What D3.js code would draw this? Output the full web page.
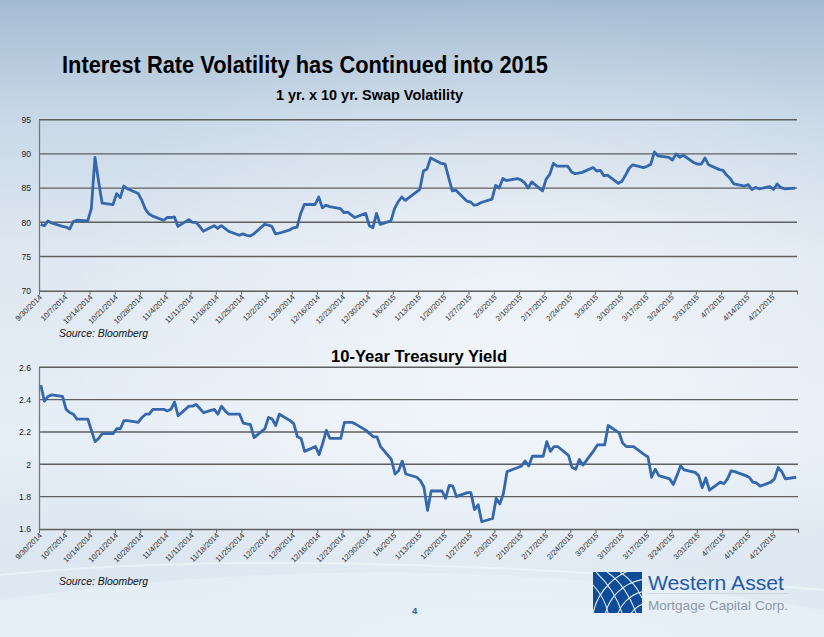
<!DOCTYPE html>
<html><head><meta charset="utf-8">
<script src="https://cdn.jsdelivr.net/npm/d3@7"></script>
<style>html,body{margin:0;padding:0;overflow:hidden;background:#dfe9f3}</style>
</head><body><svg id="c" width="824" height="637"></svg>
<script>
// ---------- DATA ----------
const dates = [
"9/30/2014","10/1/2014","10/2/2014","10/3/2014",
"10/6/2014","10/7/2014","10/8/2014","10/9/2014","10/10/2014",
"10/13/2014","10/14/2014","10/15/2014","10/16/2014","10/17/2014",
"10/20/2014","10/21/2014","10/22/2014","10/23/2014","10/24/2014",
"10/27/2014","10/28/2014","10/29/2014","10/30/2014","10/31/2014",
"11/3/2014","11/4/2014","11/5/2014","11/6/2014","11/7/2014",
"11/10/2014","11/11/2014","11/12/2014","11/13/2014","11/14/2014",
"11/17/2014","11/18/2014","11/19/2014","11/20/2014","11/21/2014",
"11/24/2014","11/25/2014","11/26/2014","11/27/2014","11/28/2014",
"12/1/2014","12/2/2014","12/3/2014","12/4/2014","12/5/2014",
"12/8/2014","12/9/2014","12/10/2014","12/11/2014","12/12/2014",
"12/15/2014","12/16/2014","12/17/2014","12/18/2014","12/19/2014",
"12/22/2014","12/23/2014","12/24/2014","12/25/2014","12/26/2014",
"12/29/2014","12/30/2014","12/31/2014","1/1/2015","1/2/2015",
"1/5/2015","1/6/2015","1/7/2015","1/8/2015","1/9/2015",
"1/12/2015","1/13/2015","1/14/2015","1/15/2015","1/16/2015",
"1/19/2015","1/20/2015","1/21/2015","1/22/2015","1/23/2015",
"1/26/2015","1/27/2015","1/28/2015","1/29/2015","1/30/2015",
"2/2/2015","2/3/2015","2/4/2015","2/5/2015","2/6/2015",
"2/9/2015","2/10/2015","2/11/2015","2/12/2015","2/13/2015",
"2/16/2015","2/17/2015","2/18/2015","2/19/2015","2/20/2015",
"2/23/2015","2/24/2015","2/25/2015","2/26/2015","2/27/2015",
"3/2/2015","3/3/2015","3/4/2015","3/5/2015","3/6/2015",
"3/9/2015","3/10/2015","3/11/2015","3/12/2015","3/13/2015",
"3/16/2015","3/17/2015","3/18/2015","3/19/2015","3/20/2015",
"3/23/2015","3/24/2015","3/25/2015","3/26/2015","3/27/2015",
"3/30/2015","3/31/2015","4/1/2015","4/2/2015","4/3/2015",
"4/6/2015","4/7/2015","4/8/2015","4/9/2015","4/10/2015",
"4/13/2015","4/14/2015","4/15/2015","4/16/2015","4/17/2015",
"4/20/2015","4/21/2015","4/22/2015","4/23/2015","4/24/2015",
"4/27/2015"
];

// 1 yr. x 10 yr. swap volatility
const swapVol = [
79.7,79.5,80.2,79.9,
79.4,79.3,79.0,80.1,80.3,
80.2,82.0,89.5,86.0,82.8,
82.6,84.2,83.6,85.3,84.9,
84.2,83.2,81.9,81.2,80.9,
80.3,80.7,80.7,80.8,79.4,
80.4,80.0,80.0,79.4,78.7,
79.5,79.1,79.5,79.1,78.7,
78.1,78.3,78.1,78.0,78.3,
79.7,79.6,79.4,78.3,78.4,
78.9,79.2,79.3,81.3,82.6,
82.6,83.7,82.1,82.5,82.3,
82.0,81.4,81.5,81.1,80.7,
81.3,79.5,79.2,81.3,79.7,
80.2,82.0,83.0,83.7,83.2,
84.4,84.8,87.5,87.8,89.4,
88.6,88.5,86.5,84.6,84.7,
83.1,83.0,82.5,82.6,82.9,
83.4,85.4,85.0,86.4,86.1,
86.4,86.2,85.8,85.0,85.9,
84.6,86.3,87.0,88.6,88.2,
88.2,87.4,87.1,87.2,87.3,
88.0,87.5,87.6,86.8,86.9,
85.7,86.0,86.9,87.9,88.4,
88.0,88.2,88.5,90.3,89.7,
89.5,89.1,90.0,89.5,89.8,
88.7,88.5,88.5,89.4,88.4,
87.7,87.6,86.9,86.4,85.6,
85.3,85.5,84.8,85.1,84.9,
85.2,84.8,85.6,85.1,84.9,
85.0
];

// 10-year Treasury yield
const tsyYield = [
2.49,2.39,2.42,2.43,
2.42,2.34,2.32,2.31,2.28,
2.28,2.21,2.14,2.16,2.19,
2.19,2.22,2.22,2.27,2.27,
2.26,2.29,2.31,2.31,2.34,
2.34,2.33,2.34,2.385,2.30,
2.36,2.36,2.37,2.345,2.32,
2.34,2.31,2.36,2.33,2.31,
2.31,2.255,2.25,2.245,2.165,
2.22,2.29,2.28,2.24,2.31,
2.27,2.25,2.17,2.16,2.08,
2.11,2.06,2.13,2.21,2.16,
2.16,2.26,2.26,2.26,2.25,
2.21,2.19,2.17,2.17,2.11,
2.03,1.94,1.96,2.02,1.94,
1.92,1.90,1.86,1.715,1.835,
1.835,1.79,1.87,1.865,1.80,
1.825,1.825,1.72,1.75,1.645,
1.665,1.79,1.755,1.82,1.955,
1.98,1.99,2.02,1.99,2.05,
2.05,2.14,2.08,2.11,2.11,
2.055,1.98,1.97,2.03,1.995,
2.085,2.12,2.12,2.12,2.24,
2.195,2.13,2.11,2.11,2.11,
2.06,2.045,1.92,1.97,1.93,
1.91,1.875,1.93,1.99,1.965,
1.95,1.93,1.855,1.915,1.84,
1.89,1.88,1.91,1.96,1.955,
1.93,1.92,1.89,1.885,1.865,
1.89,1.91,1.98,1.955,1.91,
1.92
];

const tickLabels = ["9/30/2014","10/7/2014","10/14/2014","10/21/2014","10/28/2014","11/4/2014",
"11/11/2014","11/18/2014","11/25/2014","12/2/2014","12/9/2014","12/16/2014","12/23/2014",
"12/30/2014","1/6/2015","1/13/2015","1/20/2015","1/27/2015","2/3/2015","2/10/2015",
"2/17/2015","2/24/2015","3/3/2015","3/10/2015","3/17/2015","3/24/2015","3/31/2015",
"4/7/2015","4/14/2015","4/21/2015"];
const axisEnd = "4/28/2015";

const volTicks = [70,75,80,85,90,95];
const yieldTicks = [1.6,1.8,2.0,2.2,2.4,2.6];

const titleText = "Interest Rate Volatility has Continued into 2015";
const volTitle = "1 yr. x 10 yr. Swap Volatility";
const yieldTitle = "10-Year Treasury Yield";
const sourceText = "Source: Bloomberg";

// ---------- DRAW ----------
const parse = d3.timeParse("%m/%d/%Y");
const svg = d3.select("#c");
const defs = svg.append("defs");

const bg = defs.append("linearGradient").attr("id","bg").attr("x1",0).attr("y1",0).attr("x2",0).attr("y2",1);
[[0,"#a4bcd3"],[0.08,"#b4c8dc"],[0.2,"#cbdae8"],[0.4,"#dfe8f2"],[0.7,"#e6eef6"],[0.88,"#dbe6f1"],[1,"#e2ebf4"]]
  .forEach(([o,c])=>bg.append("stop").attr("offset",o).attr("stop-color",c));
const rg = defs.append("radialGradient").attr("id","glow").attr("cx",0.62).attr("cy",0.55).attr("r",0.55);
rg.append("stop").attr("offset",0).attr("stop-color","#ffffff").attr("stop-opacity",0.5);
rg.append("stop").attr("offset",1).attr("stop-color","#ffffff").attr("stop-opacity",0);

svg.append("rect").attr("width",824).attr("height",637).attr("fill","url(#bg)");
svg.append("rect").attr("width",824).attr("height",637).attr("fill","url(#glow)");
svg.append("path").attr("d","M0,600 Q412,540 824,610 L824,637 L0,637 Z").attr("fill","#eaf1f8").attr("opacity",0.6);
svg.append("path").attr("d","M0,575 Q300,545 824,590").attr("fill","none").attr("stroke","#f4f8fc").attr("stroke-width",2).attr("opacity",0.6);

// Titles
svg.append("text").attr("x",62).attr("y",73).attr("textLength",486).attr("lengthAdjust","spacingAndGlyphs")
  .style("font-family","'Liberation Sans', Arial, sans-serif").style("font-weight","bold").style("font-size","24.5px")
  .attr("fill","#000").text(titleText);
svg.append("text").attr("x",276).attr("y",99.5).attr("textLength",187).attr("lengthAdjust","spacingAndGlyphs")
  .style("font-family","'Liberation Sans', Arial, sans-serif").style("font-weight","bold").style("font-size","14.5px")
  .attr("fill","#000").text(volTitle);
svg.append("text").attr("x",331).attr("y",361.5).attr("textLength",176).attr("lengthAdjust","spacingAndGlyphs")
  .style("font-family","'Liberation Sans', Arial, sans-serif").style("font-weight","bold").style("font-size","16px")
  .attr("fill","#000").text(yieldTitle);

const series = dates.map(parse);
const tickDates = tickLabels.map(parse).concat([parse(axisEnd)]);
const labelFor = new Map(tickLabels.map(s=>[+parse(s), s]));

function panel(values, yDomain, yTicks, top, bottom, right, fmt){
  const x = d3.scaleTime().domain([parse(tickLabels[0]), parse(axisEnd)]).range([39, right]);
  const y = d3.scaleLinear().domain(yDomain).range([bottom, top]);
  const g = svg.append("g");
  g.append("g").selectAll("line").data(yTicks.slice(1)).join("line")
    .attr("x1",39).attr("x2",right).attr("y1",d=>y(d)).attr("y2",d=>y(d))
    .attr("stroke","#5f5f5f").attr("stroke-width",1.4);
  const ya = g.append("g").attr("transform","translate(39,0)")
    .call(d3.axisLeft(y).tickValues(yTicks).tickSize(0).tickPadding(8).tickFormat(fmt));
  ya.select(".domain").attr("stroke","#777").attr("stroke-width",1.3);
  ya.selectAll("text").style("font-family","'Liberation Sans', Arial, sans-serif").style("font-size","8.6px").attr("fill","#222");
  const xa = g.append("g").attr("transform",`translate(0,${bottom})`)
    .call(d3.axisBottom(x).tickValues(tickDates).tickSize(4).tickSizeOuter(0)
      .tickFormat(d=>labelFor.get(+d) || ""));
  xa.select(".domain").attr("stroke","#5f5f5f").attr("stroke-width",1.4);
  xa.selectAll(".tick line").attr("stroke","#666");
  xa.selectAll("text").attr("text-anchor","end").attr("dx",0).attr("dy",0)
    .attr("transform","translate(3,7) rotate(-45)").attr("y",0).attr("x",0)
    .style("font-family","'Liberation Sans', Arial, sans-serif").style("font-size","7.6px").attr("fill","#2a2a2a");
  const line = d3.line()
    .x((d,i)=>x(d3.timeHour.offset(series[i],12)))
    .y(d=>y(d));
  g.append("path").datum(values).attr("d",line).attr("fill","none")
    .attr("stroke","#3567ad").attr("stroke-width",2.8).attr("stroke-linejoin","round");
}
panel(swapVol,[70,95],volTicks,119.7,290.7,797,d3.format("d"));
panel(tsyYield,[1.6,2.6],yieldTicks,367.3,529,798,d3.format("~f"));

[[337],[584.5]].forEach(([yy])=>{
  svg.append("text").attr("x",59).attr("y",yy).style("font-family","'Liberation Sans', Arial, sans-serif")
    .style("font-style","italic").style("font-size","10.4px").attr("fill","#111").text(sourceText);
});

svg.append("text").attr("x",412).attr("y",614).style("font-family","'Liberation Sans', Arial, sans-serif")
  .style("font-weight","bold").style("font-size","9.5px").attr("fill","#2f5fa5").text("4");

// logo
const lg = svg.append("g");
defs.append("clipPath").attr("id","lc").append("rect").attr("x",593).attr("y",572).attr("width",49).attr("height",41);
lg.append("rect").attr("x",593).attr("y",572).attr("width",49).attr("height",41).attr("fill","#0e4c97");
const gl = lg.append("g").attr("clip-path","url(#lc)").attr("fill","none").attr("stroke","#dfe8f3").attr("stroke-width",1.1);
[22,34,46,58].forEach(r=>gl.append("circle").attr("cx",650).attr("cy",625).attr("r",r));
[["M596,572 Q615,590 622,613"],["M607,572 Q626,585 636,613"],["M620,572 Q635,582 642,598"],["M593,585 Q605,598 608,613"]]
  .forEach(([d])=>gl.append("path").attr("d",d));
lg.append("text").attr("x",648).attr("y",590).attr("textLength",136).attr("lengthAdjust","spacingAndGlyphs")
  .style("font-family","'Liberation Sans', Arial, sans-serif").style("font-size","21px").attr("fill","#1f5aa8").text("Western Asset");
lg.append("line").attr("x1",648).attr("x2",788).attr("y1",593.5).attr("y2",593.5).attr("stroke","#c5cfda").attr("stroke-width",0.7);
lg.append("text").attr("x",648).attr("y",609.5).attr("textLength",140).attr("lengthAdjust","spacingAndGlyphs")
  .style("font-family","'Liberation Sans', Arial, sans-serif").style("font-size","13.5px").attr("fill","#8d98a6").text("Mortgage Capital Corp.");
</script></body></html>
